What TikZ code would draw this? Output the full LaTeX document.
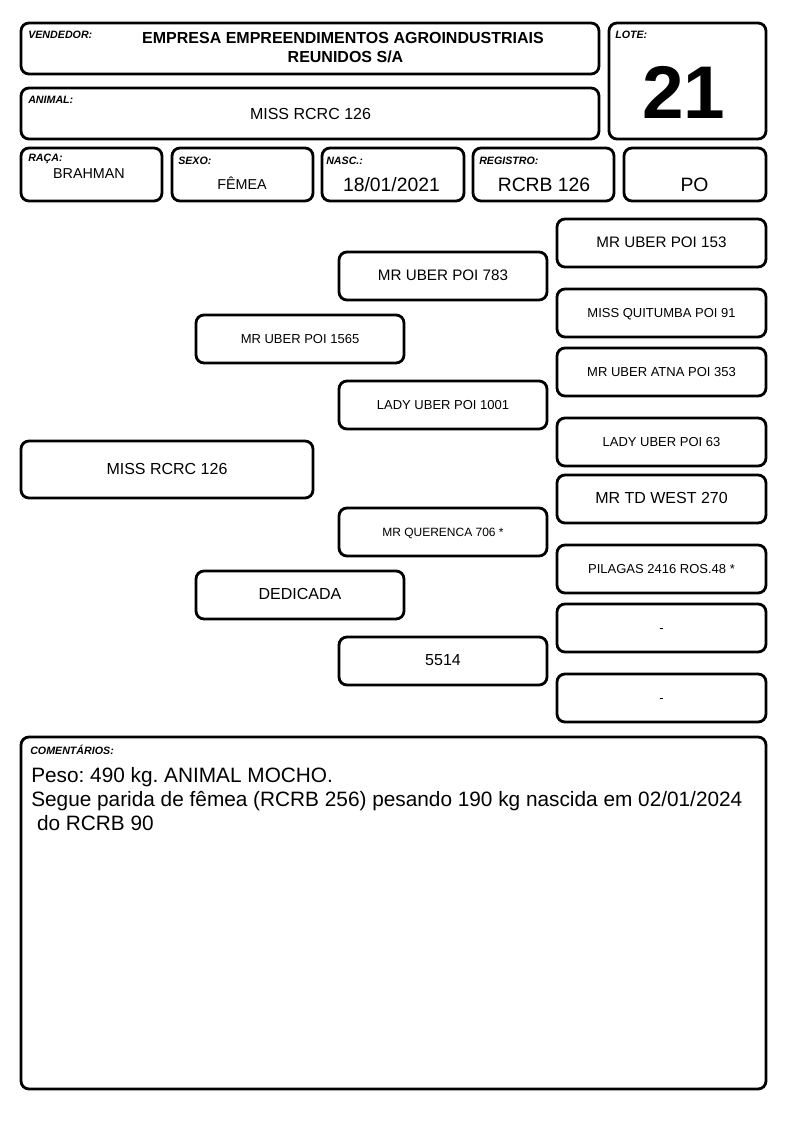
\documentclass[tikz,border=0pt]{standalone}
\usepackage{fontspec}
\setmainfont{Liberation Sans}
\frenchspacing
\begin{document}
\begin{tikzpicture}[x=0.75pt,y=-0.75pt,
  box/.style={draw=black,line width=2.1pt,rounded corners=6pt,inner sep=0pt,
    text height=0.716em,text depth=0pt,align=center},
  lbl/.style={anchor=base west,inner sep=0pt,font=\fontsize{8}{9}\selectfont\bfseries\itshape},
  txt/.style={anchor=base,inner sep=0pt},
  comtxt/.style={anchor=base west,inner sep=0pt,font=\fontsize{15.6}{18}\selectfont}]
\useasboundingbox (0,0) rectangle (794,1123);
\newcommand\mkbox[7]{\node[box,font=\fontsize{#6}{#6}\selectfont,
   minimum width={(#4-#2)*0.75pt},minimum height={(#5-#3)*0.75pt}]
   (#1) at ({(#2+#4)/2},{(#3+#5)/2}) {#7};}
% header boxes
\mkbox{vend}{21}{23}{599}{74}{12}{}
\mkbox{lote}{609}{23}{766}{139}{12}{}
\mkbox{anim}{21}{88}{599}{139}{12}{}
\mkbox{raca}{21}{148}{162}{201}{12}{}
\mkbox{sexo}{172}{148}{313}{201}{12}{}
\mkbox{nasc}{322}{148}{464}{201}{12}{}
\mkbox{reg}{473}{148}{614}{201}{12}{}
\mkbox{po}{624}{148}{766}{201}{12}{}
% header labels
\node[lbl] (vendl) at (28,38.3) {VENDEDOR:};
\node[lbl] (lotel) at (615,39) {LOTE:};
\node[lbl] (animl) at (28,104) {ANIMAL:};
\node[lbl] (racal) at (28,161.5) {RAÇA:};
\node[lbl] (sexol) at (178,165) {SEXO:};
\node[lbl] (nascl) at (326,165) {NASC.:};
\node[lbl] (regl) at (479,165) {REGISTRO:};
% header values
\node[txt,font=\fontsize{12}{12}\selectfont\bfseries] (vend1) at (343,43.3) {EMPRESA EMPREENDIMENTOS AGROINDUSTRIAIS};
\node[txt,font=\fontsize{12}{12}\selectfont\bfseries] (vend2) at (345.5,62.7) {REUNIDOS S/A};
\node[txt,font=\fontsize{56}{56}\selectfont\bfseries] (lotev) at (684,118.3) {21};
\node[txt,font=\fontsize{12}{12}\selectfont] (animv) at (310.5,119.3) {MISS RCRC 126};
\node[txt,font=\fontsize{10.75}{12}\selectfont] (racav) at (89,178.3) {BRAHMAN};
\node[txt,font=\fontsize{10.75}{12}\selectfont] (sexov) at (242,190) {FÊMEA};
\node[txt,font=\fontsize{14.5}{16}\selectfont] (nascv) at (391.5,191.7) {18/01/2021};
\node[txt,font=\fontsize{14.5}{16}\selectfont] (regv) at (544,191.7) {RCRB 126};
\node[txt,font=\fontsize{14.5}{16}\selectfont] (pov) at (694.5,191.7) {PO};
% pedigree
\mkbox{p153}{557}{219}{766}{267}{11.4}{MR UBER POI 153}
\mkbox{p783}{339}{252}{547}{300}{11.4}{MR UBER POI 783}
\mkbox{p91}{557}{289}{766}{337}{9.75}{MISS QUITUMBA POI 91}
\mkbox{p1565}{196}{315}{404}{363}{9.75}{MR UBER POI 1565}
\mkbox{p353}{557}{348}{766}{396}{9.75}{MR UBER ATNA POI 353}
\mkbox{p1001}{339}{381}{547}{429}{9.75}{LADY UBER POI 1001}
\mkbox{p63}{557}{418}{766}{466}{9.75}{LADY UBER POI 63}
\mkbox{main}{21}{441}{313}{498}{12}{MISS RCRC 126}
\mkbox{p270}{557}{475}{766}{523}{12}{MR TD WEST 270}
\mkbox{p706}{339}{508}{547}{556}{9}{MR QUERENCA 706 *}
\mkbox{pil}{557}{545}{766}{593}{9.75}{PILAGAS 2416 ROS.48 *}
\mkbox{ded}{196}{571}{404}{619}{12}{DEDICADA}
\mkbox{dash1}{557}{604}{766}{652}{9.75}{-}
\mkbox{p5514}{339}{637}{547}{685}{12}{5514}
\mkbox{dash2}{557}{674}{766}{722}{9.75}{-}
% comments
\mkbox{com}{21}{737}{766}{1089}{12}{}
\node[lbl] (coml) at (30,754.3) {COMENTÁRIOS:};
\node[comtxt] (c1) at (31,782.5) {Peso: 490 kg. ANIMAL MOCHO.};
\node[comtxt] (c2) at (31,806.5) {Segue parida de fêmea (RCRB 256) pesando 190 kg nascida em 02/01/2024};
\node[comtxt] (c3) at (31,830.5) {\ do RCRB 90};
\end{tikzpicture}
\end{document}
